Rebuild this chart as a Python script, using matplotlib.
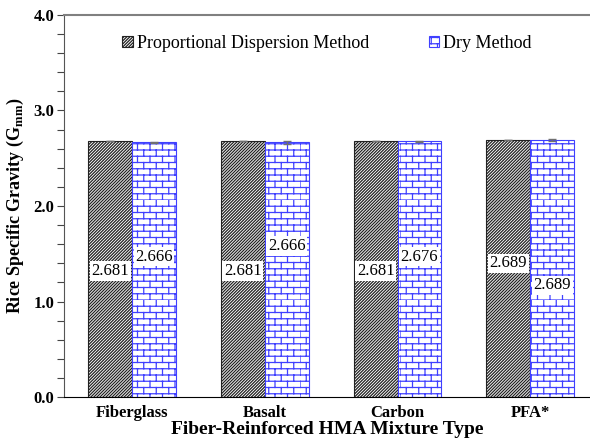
import numpy as np
import matplotlib
matplotlib.use("Agg")
import matplotlib.pyplot as plt
import matplotlib.hatch as mhatch
from matplotlib.path import Path
import warnings
warnings.filterwarnings("ignore")

categories = ["Fiberglass", "Basalt", "Carbon", "PFA*"]
pdm_values = [2.681, 2.681, 2.681, 2.689]
dry_values = [2.666, 2.666, 2.676, 2.689]
pdm_err = [0.003, 0.003, 0.003, 0.003]
dry_err = [0.006, 0.014, 0.008, 0.010]
pdm_label_y = [1.32, 1.32, 1.32, 1.40]
dry_label_y = [1.47, 1.58, 1.47, 1.17]


class BrickHatch(mhatch.HatchPatternBase):
    rows = 16
    cols = 8

    def __init__(self, hatch, density):
        self.on = 'b' in hatch
        if self.on:
            self.num_vertices = self.rows * 2 + self.rows * self.cols * 2
        else:
            self.num_vertices = 0

    def set_vertices_and_codes(self, vertices, codes):
        verts = []
        h = 1.0 / self.rows
        w = 1.0 / self.cols
        for i in range(self.rows):
            y = i * h
            verts.append((0.0, y))
            verts.append((1.0, y))
        for i in range(self.rows):
            y0 = i * h
            off = 0.5 * w if i % 2 else 0.0
            for j in range(self.cols):
                x = j * w + off
                verts.append((x, y0))
                verts.append((x, y0 + h))
        vertices[:] = np.array(verts)
        codes[0::2] = Path.MOVETO
        codes[1::2] = Path.LINETO


mhatch._hatch_types.append(BrickHatch)

plt.rcParams['font.family'] = ['Liberation Serif', 'DejaVu Serif']
plt.rcParams['hatch.linewidth'] = 0.9
plt.rcParams['mathtext.fontset'] = 'custom'
plt.rcParams['mathtext.rm'] = 'Liberation Serif'
plt.rcParams['mathtext.bf'] = 'Liberation Serif:bold'

fig = plt.figure(figsize=(5.9, 4.44), dpi=100)
ax = fig.add_axes([64 / 590, 47 / 444, 1 - 64 / 590, (397 - 15) / 444])

x = np.arange(len(categories))
w = 0.33
blue = '#4040ff'

ax.bar(x - w / 2, pdm_values, w, facecolor='white', edgecolor='#222222',
       hatch='/' * 11, linewidth=0.8, label='Proportional Dispersion Method',
       yerr=pdm_err, error_kw=dict(ecolor='#707070', capsize=3, elinewidth=1, capthick=1))
ax.bar(x + w / 2, dry_values, w, facecolor='white', edgecolor=blue,
       hatch='b', linewidth=0.8, label='Dry Method',
       yerr=dry_err, error_kw=dict(ecolor='#707070', capsize=3, elinewidth=1, capthick=1))

for i in range(len(categories)):
    ax.text(x[i] - w / 2, pdm_label_y[i], f"{pdm_values[i]:.3f}", ha='center', va='center',
            fontsize=12, bbox=dict(facecolor='white', edgecolor='none', pad=1.2))
    ax.text(x[i] + w / 2, dry_label_y[i], f"{dry_values[i]:.3f}", ha='center', va='center',
            fontsize=12, bbox=dict(facecolor='white', edgecolor='none', pad=1.2))

ax.set_xlim(-0.513, 3.45)
ax.set_ylim(0, 4.0)
ax.set_yticks(np.arange(0, 4.01, 1.0))
ax.set_yticks(np.arange(0, 4.01, 0.2), minor=True)
ax.yaxis.set_major_formatter(matplotlib.ticker.FormatStrFormatter('%.1f'))
ax.tick_params(axis='y', which='both', direction='out', length=5, width=0.8, labelsize=12, color='#444444', pad=2)
ax.set_xticks(x)
ax.set_xticklabels(categories, fontweight='bold', fontsize=12)
ax.tick_params(axis='x', length=0, pad=6)
for lab in ax.get_yticklabels():
    lab.set_fontweight('bold')

ax.spines['right'].set_visible(False)
ax.spines['top'].set_color('#808080')
ax.spines['top'].set_linewidth(1.5)
ax.spines['left'].set_color('#555555')
ax.spines['bottom'].set_color('black')

ax.set_ylabel('Rice Specific Gravity (G$_{\\mathbf{mm}}$)', fontweight='bold', fontsize=13, labelpad=5)
ax.set_xlabel('Fiber-Reinforced HMA Mixture Type', fontweight='bold', fontsize=14, labelpad=0)

leg = ax.legend(loc='upper center', bbox_to_anchor=(0.5, 0.99), ncol=2, frameon=False,
                fontsize=13, handlelength=0.6, handleheight=0.6, handletextpad=0.2,
                columnspacing=3.3)

fig.savefig('out.png', dpi=100)
